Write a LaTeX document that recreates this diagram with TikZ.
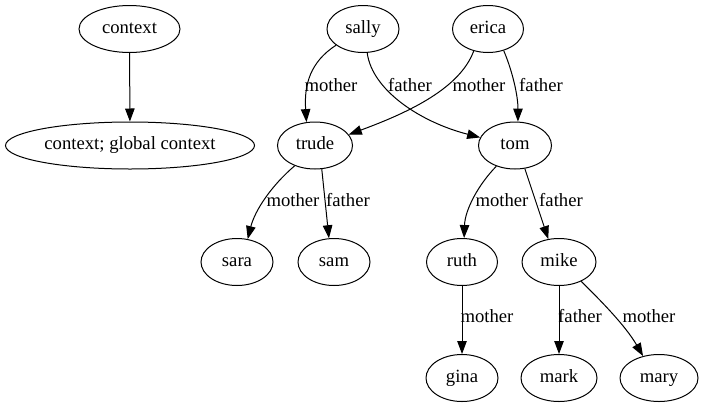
\documentclass[tikz,border=0pt]{standalone}
\usepackage{fontspec}
\setmainfont{Liberation Serif}
\usetikzlibrary{arrows.meta,shapes.geometric}
\begin{document}
\begin{tikzpicture}[x=1pt,y=-1pt,
  every node/.style={font=\fontsize{18.67}{22}\selectfont\rmfamily,text height=12.5pt,text depth=4pt},
  nd/.style={ellipse,draw,line width=1pt,inner sep=0pt,minimum height=47pt},
  lbl/.style={inner sep=0pt,anchor=center},
  edge/.style={line width=1pt,-{Triangle[length=13pt,width=9.5pt]}}]
\useasboundingbox (0,0) rectangle (703,407);
\node[nd,minimum width=101pt] (context) at (129.5,29) {context};
\node[nd,minimum width=249pt] (global) at (130,145.5) {context; global context};
\node[nd,minimum width=72pt] (sally) at (363,29) {sally};
\node[nd,minimum width=71pt] (erica) at (488,29) {erica};
\node[nd,minimum width=75pt] (trude) at (315,145.5) {trude};
\node[nd,minimum width=73pt] (tom) at (515,145.5) {tom};
\node[nd,minimum width=72pt] (sara) at (237,262) {sara};
\node[nd,minimum width=72pt] (sam) at (334,262) {sam};
\node[nd,minimum width=71pt] (ruth) at (462,262) {ruth};
\node[nd,minimum width=74pt] (mike) at (559,262) {mike};
\node[nd,minimum width=72pt] (gina) at (462,378) {gina};
\node[nd,minimum width=76pt] (mark) at (559,378) {mark};
\node[nd,minimum width=78pt] (mary) at (659,378) {mary};

\draw[edge] (context) -- (global);
\draw[edge] (sally.211) .. controls (310,62) and (304,85) .. (trude.110);
\draw[edge] (sally.280) .. controls (372,90) and (420,122) .. (tom.167);
\draw[edge] (erica.237) .. controls (460,88) and (410,112) .. (trude.18);
\draw[edge] (erica.306) .. controls (512,70) and (518,95) .. (tom.83);
\draw[edge] (trude.225) .. controls (272,185) and (255,210) .. (sara.65);
\draw[edge] (trude.286) -- (sam.102);
\draw[edge] (tom.228) .. controls (478,185) and (465,210) .. (ruth.85);
\draw[edge] (tom.293) -- (mike.115);
\draw[edge] (ruth) -- (gina);
\draw[edge] (mike) -- (mark);
\draw[edge] (mike.319) .. controls (600,300) and (625,325) .. (mary.126);

\node[lbl] (l1) at (331,87) {mother};
\node[lbl] (l2) at (410,87) {father};
\node[lbl] (l3) at (479,87) {mother};
\node[lbl] (l4) at (541,87) {father};
\node[lbl] (l5) at (293,202) {mother};
\node[lbl] (l6) at (348,202) {father};
\node[lbl] (l7) at (502,202) {mother};
\node[lbl] (l8) at (561,202) {father};
\node[lbl] (l9) at (487,318) {mother};
\node[lbl] (l10) at (580,318) {father};
\node[lbl] (l11) at (649,318) {mother};
\end{tikzpicture}
\end{document}
